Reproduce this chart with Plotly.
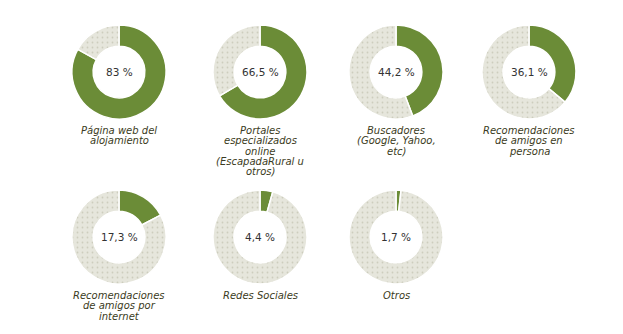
import plotly.graph_objects as go

labels = [
    "Página web del<br>alojamiento",
    "Portales<br>especializados<br>online<br>(EscapadaRural u<br>otros)",
    "Buscadores<br>(Google, Yahoo,<br>etc)",
    "Recomendaciones<br>de amigos en<br>persona",
    "Recomendaciones<br>de amigos por<br>internet",
    "Redes Sociales",
    "Otros",
]
values = [83, 66.5, 44.2, 36.1, 17.3, 4.4, 1.7]
value_text = ["83 %", "66,5 %", "44,2 %", "36,1 %", "17,3 %", "4,4 %", "1,7 %"]

W, H = 623, 334
col_x = [119, 260, 396, 529]
row_y = [72, 237]
R = 47
GREEN = "#6b8c37"
GREY = "#e6e6dc"
TEXT = "#3b3b22"

fig = go.Figure()
ann = []
for i, (lab, v, vt) in enumerate(zip(labels, values, value_text)):
    cx = col_x[i % 4]
    cy = row_y[i // 4]
    fig.add_trace(go.Pie(
        values=[v, 100 - v],
        sort=False,
        direction="clockwise",
        rotation=0,
        hole=0.55,
        textinfo="none",
        hoverinfo="skip",
        showlegend=False,
        marker=dict(
            colors=[GREEN, GREY],
            line=dict(color="white", width=1.5),
            pattern=dict(shape=["", "."], fgcolor="#cdcdbd", bgcolor=GREY,
                         size=5, solidity=0.1),
        ),
        domain=dict(x=[(cx - R) / W, (cx + R) / W],
                    y=[1 - (cy + R) / H, 1 - (cy - R) / H]),
    ))
    ann.append(dict(x=cx / W, y=1 - cy / H, xref="paper", yref="paper",
                    text=vt, showarrow=False, xanchor="center", yanchor="middle",
                    font=dict(family="DejaVu Sans", size=10.5, color="#333333")))
    for j, line in enumerate(lab.split("<br>")):
        ly = cy + 58 + 10.5 * j
        ann.append(dict(x=cx / W, y=1 - ly / H, xref="paper", yref="paper",
                        text="<i>" + line + "</i>", showarrow=False,
                        xanchor="center", yanchor="middle",
                        font=dict(family="DejaVu Sans", size=10, color=TEXT)))

fig.update_layout(
    width=W, height=H,
    margin=dict(l=0, r=0, t=0, b=0),
    paper_bgcolor="white", plot_bgcolor="white",
    annotations=ann,
)
fig.write_html("out.html")
